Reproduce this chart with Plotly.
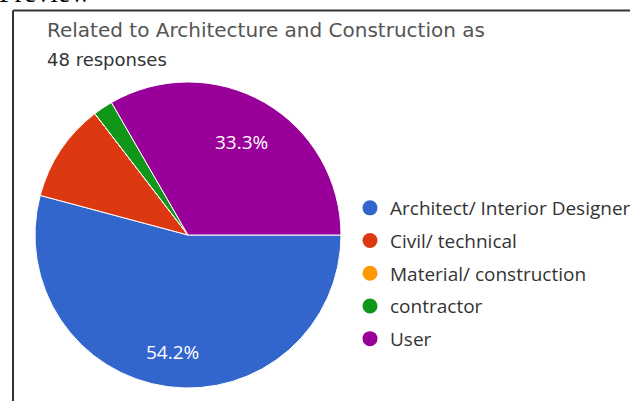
import math
import plotly.graph_objects as go

# Survey answers: "Related to Architecture and Construction as" (48 responses)
categories = ["Architect/ Interior Designer", "Civil/ technical",
              "Material/ construction", "contractor", "User"]
responses = [26, 5, 0, 1, 16]
colors = ["#3366cc", "#dc3912", "#ff9900", "#109618", "#990099"]

total = sum(responses)

W, H = 630, 401


def px_x(x):
    return x / W


def px_y(y):
    return 1 - y / H


fig = go.Figure()

# pie geometry in page pixels
cx, cy, r = 188, 235, 153
start_deg = 90  # first slice starts at 3 o'clock and runs clockwise

fig.add_trace(go.Pie(
    labels=categories,
    values=responses,
    textinfo="none",
    marker=dict(colors=colors, line=dict(color="white", width=1)),
    sort=False,
    direction="clockwise",
    rotation=start_deg,
    showlegend=False,
    hoverinfo="label+percent",
    domain=dict(x=[px_x(cx - r), px_x(cx + r)], y=[px_y(cy + r), px_y(cy - r)]),
))

# percentage labels for the larger slices, placed along each slice's mid-angle
label_radius = [0.77, 0.7, 0.7, 0.7, 0.70]
annotations = []
cum = 0
for v, rf in zip(responses, label_radius):
    share = v / total
    mid = math.radians(start_deg + 360 * (cum + share / 2))
    cum += share
    if share < 0.2:
        continue
    lx = cx + rf * r * math.sin(mid)
    ly = cy - rf * r * math.cos(mid)
    annotations.append(dict(
        text=f"{share * 100:.1f}%", x=px_x(lx), y=px_y(ly),
        xref="paper", yref="paper", xanchor="center", yanchor="middle",
        showarrow=False,
        font=dict(family="Open Sans", size=19, color="white"),
    ))

# legend entries drawn as round markers
for i, (name, col) in enumerate(zip(categories, colors)):
    fig.add_trace(go.Scatter(
        x=[None], y=[None], mode="markers", name=name,
        legendgroup=f"g{i}",
        marker=dict(symbol="circle", size=15, color=col),
    ))

annotations += [
    dict(text="Preview", x=px_x(94), y=px_y(10), xref="paper", yref="paper",
         xanchor="right", yanchor="bottom", showarrow=False,
         font=dict(family="Liberation Serif", size=28, color="black")),
    dict(text="Related to Architecture and Construction as",
         x=px_x(45), y=px_y(30), xref="paper", yref="paper",
         xanchor="left", yanchor="middle", showarrow=False,
         font=dict(family="DejaVu Sans", size=20, color="#555555")),
    dict(text="48 responses",
         x=px_x(45), y=px_y(59), xref="paper", yref="paper",
         xanchor="left", yanchor="middle", showarrow=False,
         font=dict(family="DejaVu Sans", size=18, color="#333333")),
]

fig.update_layout(
    width=W, height=H,
    margin=dict(l=0, r=0, t=0, b=0, autoexpand=False),
    paper_bgcolor="white",
    plot_bgcolor="white",
    xaxis=dict(visible=False, domain=[0.9, 1.0]),
    yaxis=dict(visible=False),
    legend=dict(
        x=px_x(350), y=px_y(189), xanchor="left", yanchor="top",
        font=dict(family="Open Sans", size=19, color="#333333"),
        tracegroupgap=5,
        itemsizing="trace",
        bgcolor="rgba(0,0,0,0)",
    ),
    annotations=annotations,
    shapes=[
        dict(type="line", xref="paper", yref="paper",
             x0=px_x(13), x1=1, y0=px_y(10.5), y1=px_y(10.5),
             line=dict(color="#333333", width=2)),
        dict(type="line", xref="paper", yref="paper",
             x0=px_x(13), x1=px_x(13), y0=px_y(10.5), y1=0,
             line=dict(color="#333333", width=2)),
    ],
)

fig.write_html("out.html")
